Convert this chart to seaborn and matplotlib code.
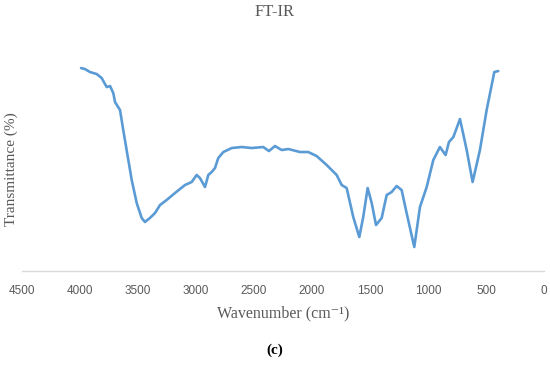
import matplotlib
matplotlib.use("Agg")
import matplotlib.pyplot as plt
import seaborn as sns
import pandas as pd

wavenumber = [3991, 3957, 3914, 3856, 3813, 3770, 3741, 3713, 3698, 3655, 3627, 3598,
              3554, 3511, 3468, 3440, 3397, 3353, 3310, 3253, 3181, 3095, 3037, 2994,
              2966, 2922, 2894, 2865, 2836, 2808, 2764, 2692, 2606, 2520, 2420, 2371,
              2319, 2261, 2204, 2103, 2032, 1960, 1873, 1787, 1744, 1701, 1644, 1592,
              1558, 1520, 1485, 1448, 1399, 1356, 1313, 1270, 1227, 1184, 1118, 1069,
              1011, 954, 897, 848, 819, 781, 724, 666, 615, 552, 494, 428, 394]
transmittance = [200, 199, 196, 194, 190, 181, 182, 175, 166, 158, 138, 118,
                 88, 65, 50, 46, 50, 55, 63, 68, 75, 83, 86, 93,
                 90, 81, 93, 96, 100, 110, 116, 120, 121, 120, 121, 117,
                 122, 118, 119, 116, 116, 112, 103, 93, 83, 80, 51, 31,
                 51, 80, 65, 43, 50, 73, 76, 82, 78, 55, 21, 61,
                 81, 108, 121, 113, 126, 131, 149, 118, 86, 118, 158, 196, 197]
x_ticks = [4500, 4000, 3500, 3000, 2500, 2000, 1500, 1000, 500, 0]

df = pd.DataFrame({"Wavenumber": wavenumber, "Transmittance": transmittance})

sns.set_theme(style="white")
plt.rcParams["font.family"] = ["Liberation Serif", "DejaVu Serif"]

fig = plt.figure(figsize=(5.5, 3.68), dpi=100)
ax = fig.add_axes([0.04, 0.2636, 0.949, 0.6004])
sns.lineplot(data=df, x="Wavenumber", y="Transmittance", ax=ax,
             color="#5B9BD5", linewidth=1.9)
for ln in ax.get_lines():
    ln.set_solid_joinstyle("round")
    ln.set_solid_capstyle("round")
ax.set_xlim(4500, 0)
ax.set_ylim(-3, 218)
ax.set_xticks(x_ticks)
ax.set_xticklabels([str(t) for t in x_ticks], family="Liberation Sans",
                   fontsize=8.5, color="#595959")
ax.set_yticks([])
for s in ["top", "right", "left"]:
    ax.spines[s].set_visible(False)
ax.spines["bottom"].set_color("#D9D9D9")
ax.spines["bottom"].set_linewidth(1.0)
ax.tick_params(axis="x", length=0, pad=10)
ax.set_xlabel("Wavenumber (cm⁻¹)", fontsize=11.5, color="#595959", labelpad=6,
              family=["Liberation Serif", "DejaVu Serif"])
ax.set_ylabel("")
fig.text(0.02, 0.54, "Transmittance (%)", rotation=90, ha="center", va="center",
         fontsize=11, color="#595959")
fig.text(0.5, 0.967, "FT-IR", ha="center", va="center", fontsize=12, color="#595959")
fig.text(0.5, 0.049, "(c)", ha="center", va="center", fontsize=11, fontweight="bold",
         color="black")
fig.savefig("out.png", dpi=100)
